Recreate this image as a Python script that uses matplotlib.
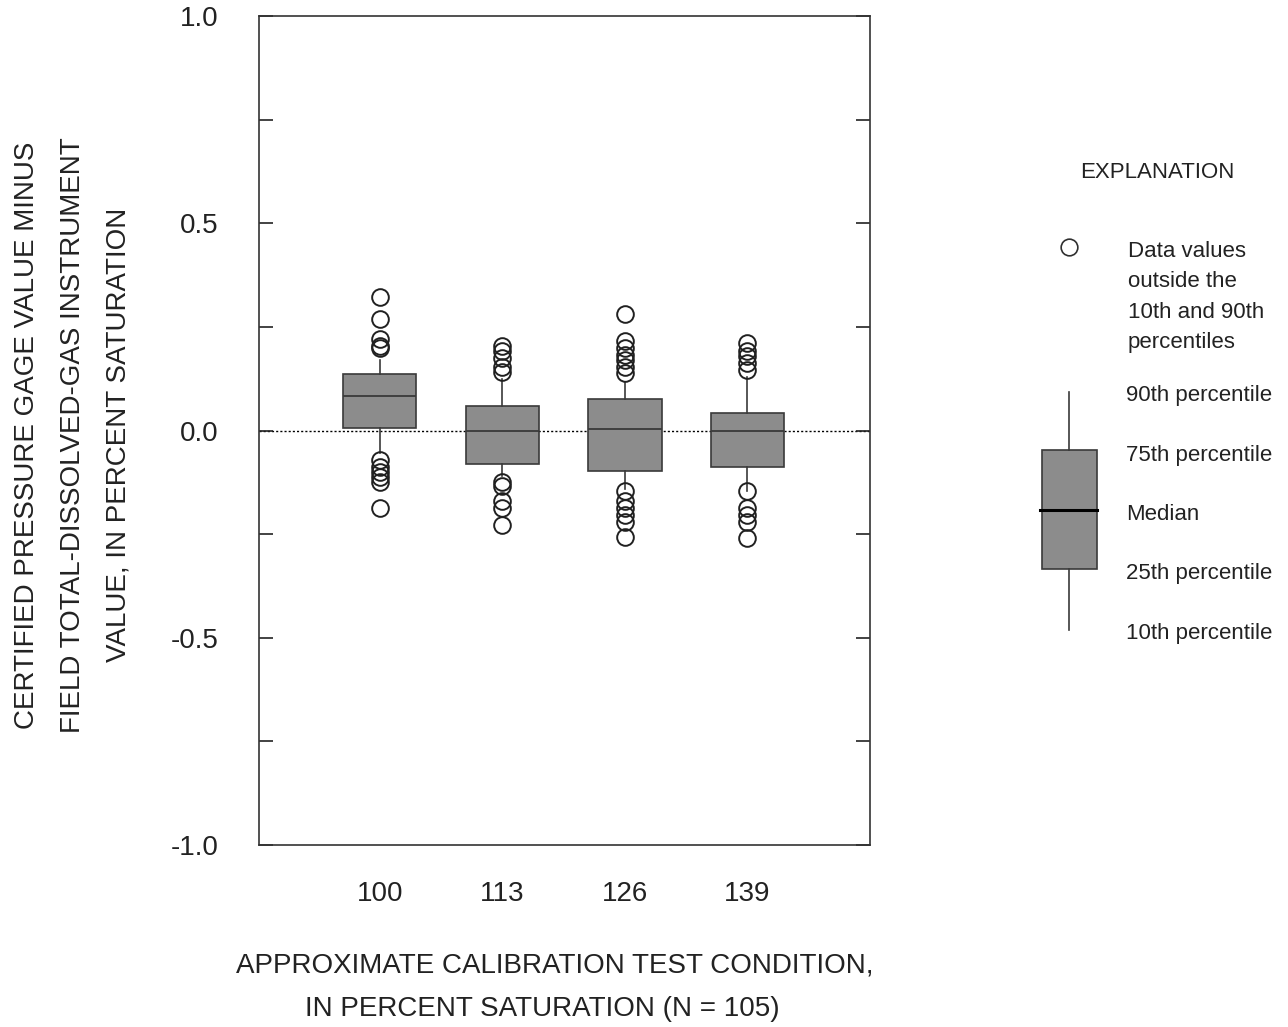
import matplotlib
matplotlib.use("Agg")
import matplotlib.pyplot as plt
from matplotlib.patches import Rectangle

plt.rcParams['font.family'] = ['Liberation Sans', 'DejaVu Sans']

# test conditions, percent saturation
conditions = [100, 113, 126, 139]

# box statistics: certified gage value minus instrument value
p10 = [-0.055, -0.109, -0.140, -0.145]
p25 = [0.005, -0.080, -0.097, -0.089]
medians = [0.084, 0.0, 0.003, 0.0]
p75 = [0.137, 0.058, 0.077, 0.043]
p90 = [0.169, 0.125, 0.118, 0.130]

# values outside the 10th and 90th percentiles
outliers = [
    [0.323, 0.270, 0.222, 0.205, 0.198,
     -0.072, -0.087, -0.099, -0.111, -0.123, -0.188],
    [0.205, 0.193, 0.174, 0.154, 0.142,
     -0.123, -0.135, -0.169, -0.188, -0.229],
    [0.282, 0.217, 0.198, 0.181, 0.169, 0.154, 0.138,
     -0.147, -0.171, -0.188, -0.205, -0.220, -0.256],
    [0.210, 0.193, 0.179, 0.162, 0.145,
     -0.147, -0.188, -0.205, -0.220, -0.260],
]

box_fill = '#8c8c8c'
edge = '#3a3a3a'
ink = '#222222'

fig = plt.figure(figsize=(12.88, 10.27), dpi=100)
ax = fig.add_axes([0.2011, 0.1772, 0.4744, 0.8072])

stats = []
for i in range(len(conditions)):
    stats.append(dict(med=medians[i], q1=p25[i], q3=p75[i],
                      whislo=p10[i], whishi=p90[i], fliers=outliers[i]))

ax.axhline(0, color='black', lw=1.0, ls=(0, (1.5, 1.5)), zorder=1)

ax.bxp(stats, positions=conditions, widths=7.8, patch_artist=True,
       showcaps=False,
       boxprops=dict(facecolor=box_fill, edgecolor=edge, lw=1.2),
       medianprops=dict(color=edge, lw=1.3),
       whiskerprops=dict(color=edge, lw=1.2),
       flierprops=dict(marker='o', markersize=12, markerfacecolor='none',
                       markeredgecolor='#202020', markeredgewidth=1.4),
       zorder=2)

ax.set_xlim(87.2, 152.0)
ax.set_ylim(-1.0, 1.0)
ax.set_xticks(conditions)
ax.set_xticklabels([str(c) for c in conditions])
ax.set_yticks([-1.0, -0.5, 0.0, 0.5, 1.0])
ax.set_yticks([-0.75, -0.25, 0.25, 0.75], minor=True)
ax.set_yticklabels(['-1.0', '-0.5', '0.0', '0.5', '1.0'])
ax.tick_params(axis='x', length=0, pad=26, labelsize=20, colors=ink)
ax.tick_params(axis='y', which='both', direction='in', right=True,
               length=10, width=1.2, pad=29, labelsize=20, colors=ink)
for s in ax.spines.values():
    s.set_linewidth(1.2)
    s.set_color('#333333')

fig.text(0.431, 1 - 965 / 1027, 'APPROXIMATE CALIBRATION TEST CONDITION,',
         ha='center', va='center', fontsize=20, color=ink)
fig.text(0.421, 1 - 1009 / 1027, 'IN PERCENT SATURATION (N = 105)',
         ha='center', va='center', fontsize=20, color=ink)
fig.text(0.0565, 1 - 435 / 1027,
         'CERTIFIED PRESSURE GAGE VALUE MINUS\nFIELD TOTAL-DISSOLVED-GAS INSTRUMENT\n'
         'VALUE, IN PERCENT SATURATION',
         ha='center', va='center', rotation=90, fontsize=20, linespacing=1.97,
         color=ink)

# explanation panel, drawn in pixel units
leg = fig.add_axes([0, 0, 1, 1], facecolor='none')
leg.set_xlim(0, 1288)
leg.set_ylim(1027, 0)
leg.axis('off')

txt = dict(fontsize=16, color=ink, va='center', ha='left')
leg.text(1157, 172, 'EXPLANATION', fontsize=16, color=ink,
         ha='center', va='center')
leg.plot([1069], [247], marker='o', markersize=12, markerfacecolor='none',
         markeredgecolor='#303030', markeredgewidth=1.2)
leg.text(1128, 297, 'Data values\noutside the\n10th and 90th\npercentiles',
         linespacing=1.6, **txt)
leg.plot([1069, 1069], [392, 450], color=edge, lw=1.2)
leg.plot([1069, 1069], [569, 630], color=edge, lw=1.2)
leg.add_patch(Rectangle((1042, 450), 55, 119, facecolor=box_fill,
                        edgecolor=edge, lw=1.2))
leg.plot([1040, 1097], [510, 510], color='black', lw=2.2)
for y, lab in zip([395, 455, 515, 574, 634],
                  ['90th percentile', '75th percentile', 'Median',
                   '25th percentile', '10th percentile']):
    leg.text(1126, y, lab, **txt)

fig.savefig('out.png', dpi=100)
